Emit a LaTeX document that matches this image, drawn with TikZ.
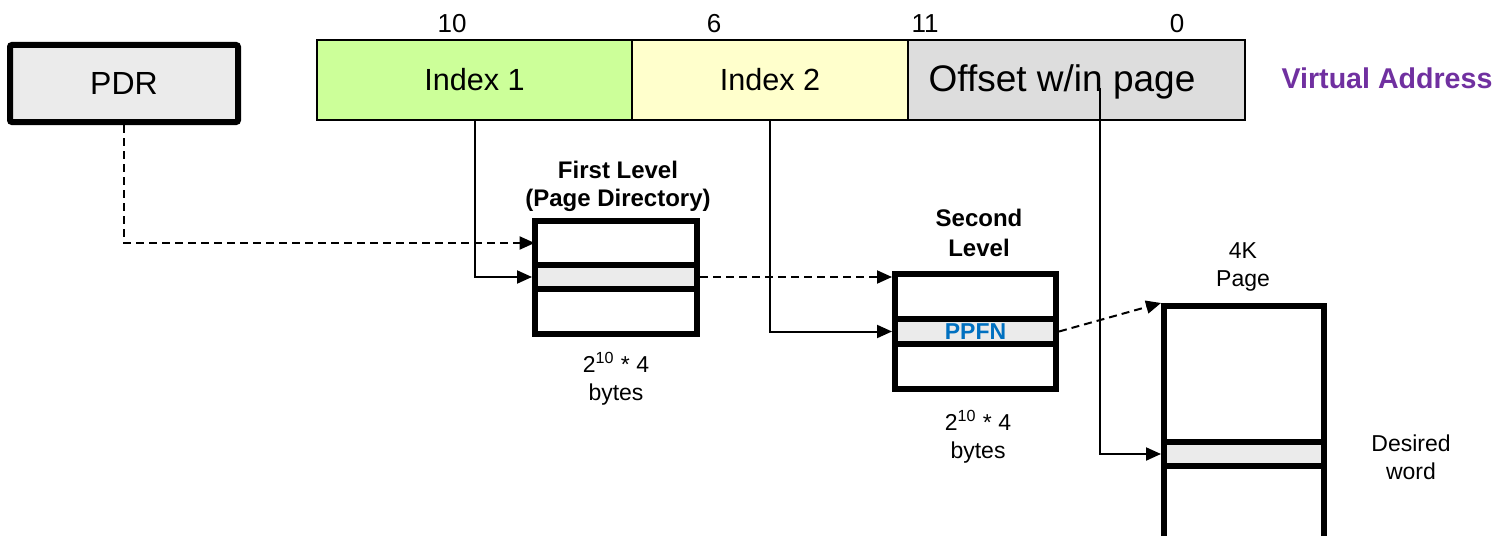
\documentclass[tikz,border=0pt]{standalone}
\usepackage{fontspec}
\setmainfont{Liberation Sans}
\usetikzlibrary{arrows.meta}
\definecolor{grn}{HTML}{CCFF99}
\definecolor{ylw}{HTML}{FFFFCC}
\definecolor{offgray}{HTML}{DDDDDD}
\definecolor{lgray}{HTML}{EBEBEB}
\definecolor{purp}{HTML}{7030A0}
\definecolor{blu}{HTML}{0070C0}
\begin{document}
\begin{tikzpicture}[x=0.5pt,y=-0.5pt,
  txt/.style={inner sep=0pt, align=center},
  fieldbox/.style={draw, line width=1pt, minimum height=40pt, inner sep=0pt},
  tablebox/.style={draw, line width=3pt, minimum width=81pt, inner sep=0pt},
  rowbox/.style={draw, line width=3pt, fill=lgray, minimum width=81pt, inner sep=0pt},
  arr/.style={line width=1pt, -{Triangle[length=7.5pt,width=6.5pt]}},
  dsh/.style={dash pattern=on 4pt off 2.5pt}]
\clip (0,0) rectangle (1502,535);
% address bar
\node[fieldbox, fill=grn, minimum width=157.5pt, font=\fontsize{15.3}{18}\selectfont] (idx1) at (474.5,80) {Index 1};
\node[fieldbox, fill=ylw, minimum width=138pt, font=\fontsize{15.3}{18}\selectfont] (idx2) at (770,80) {Index 2};
\node[fieldbox, fill=offgray, minimum width=168.5pt] (off) at (1076.5,80) {};
\node[txt, font=\fontsize{18.5}{21}\selectfont] (offtxt) at (1062,82) {Offset w/in page};
\node[txt, font=\fontsize{13}{15}\selectfont] (n10) at (452,24) {10};
\node[txt, font=\fontsize{13}{15}\selectfont] (n6) at (714,24) {6};
\node[txt, font=\fontsize{13}{15}\selectfont] (n11) at (925,24) {11};
\node[txt, font=\fontsize{13}{15}\selectfont] (n0) at (1177,24) {0};
\node[txt, text=purp, font=\bfseries\fontsize{14.3}{17}\selectfont] (va) at (1387,78) {Virtual Address};
% PDR
\node[draw, line width=3pt, fill=lgray, rounded corners=1pt, minimum width=114pt, minimum height=38.5pt, inner sep=0pt, font=\fontsize{16}{18}\selectfont] (pdr) at (124,83.5) {PDR};
% first level
\node[txt, font=\bfseries\fontsize{12}{14}\selectfont] (fltitle) at (618,186) {First Level\\(Page Directory)};
\node[tablebox, minimum height=56.5pt] (fl) at (616,277.5) {};
\node[inner sep=0pt, minimum width=81pt, minimum height=22pt] (flt) at (616,243) {};
\node[rowbox, minimum height=12pt] (flr) at (616,277) {};
\node[txt, font=\fontsize{11.5}{14}\selectfont] (flsize) at (616,379) {2\textsuperscript{10} * 4\\bytes};
% second level
\node[txt, font=\bfseries\fontsize{12}{15}\selectfont] (sltitle) at (979,233) {Second\\Level};
\node[tablebox, minimum width=80.5pt, minimum height=57.5pt] (sl) at (975.5,331.5) {};
\node[rowbox, minimum width=80.5pt, minimum height=12.5pt, text=blu, font=\bfseries\fontsize{11.5}{13}\selectfont] (ppfn) at (975.5,331.5) {PPFN};
\node[txt, font=\fontsize{11.5}{14}\selectfont] (slsize) at (978,437) {2\textsuperscript{10} * 4\\bytes};
% page
\node[txt, font=\fontsize{11.5}{14}\selectfont] (pgtitle) at (1243,267) {4K\\Page};
\node[tablebox, minimum width=80pt, minimum height=127pt] (pg) at (1244,433) {};
\node[rowbox, minimum width=80pt, minimum height=12pt] (pgw) at (1244,454) {};
\node[txt, font=\fontsize{11.5}{14}\selectfont] (dw) at (1411,457) {Desired\\word};
% connectors
\coordinate (offsrc) at (1100,88);
\draw[arr, dsh] (pdr.south) |- (flt.west);
\draw[arr] (idx1.south) |- (flr.west);
\draw[arr, dsh] (flr.east) -- (flr.east -| sl.west);
\draw[arr] (idx2.south) |- (ppfn.west);
\draw[arr, dsh] (ppfn.east) -- (pg.north west);
\draw[arr] (offsrc) |- (pgw.west);
\end{tikzpicture}
\end{document}
